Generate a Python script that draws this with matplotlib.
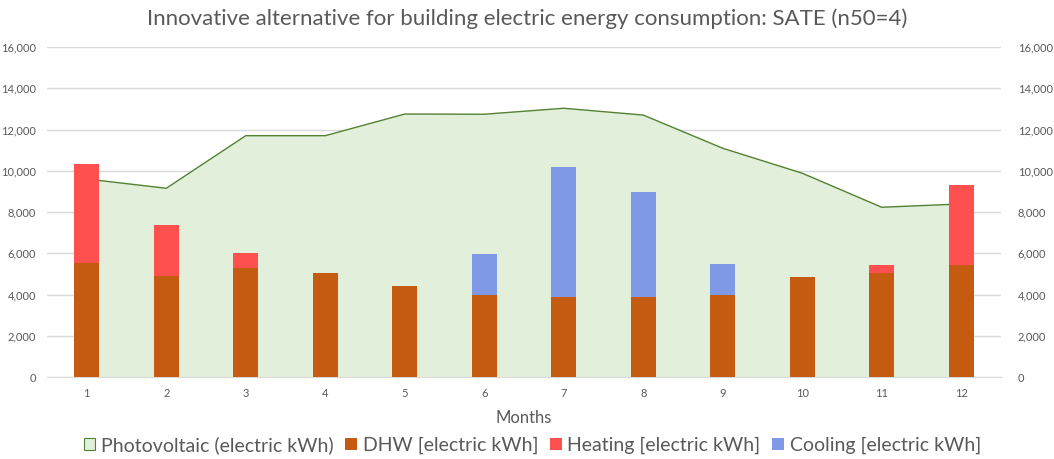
import matplotlib.pyplot as plt
from matplotlib.ticker import FuncFormatter
from matplotlib.patches import Patch

months = [1, 2, 3, 4, 5, 6, 7, 8, 9, 10, 11, 12]
photovoltaic = [9600, 9150, 11700, 11700, 12750, 12740, 13030, 12700, 11090, 9880, 8230, 8390]
dhw = [5510, 4900, 5290, 5040, 4410, 3980, 3880, 3880, 3980, 4850, 5040, 5430]
heating = [4820, 2470, 720, 0, 0, 0, 0, 0, 0, 0, 390, 3880]
cooling = [0, 0, 0, 0, 0, 1980, 6300, 5090, 1500, 0, 0, 0]

plt.rcParams['font.family'] = ['Lato', 'DejaVu Sans']
gray = '#595959'

fig = plt.figure(figsize=(10.54, 4.59), dpi=100)
ax = fig.add_axes([47 / 1054, 1 - 377 / 459, 954 / 1054, 330 / 459])

ax.fill_between(months, photovoltaic, color='#E2EFDA', zorder=1)
ax.plot(months, photovoltaic, color='#548235', lw=1, zorder=2)

w = 0.31
ax.bar(months, dhw, width=w, color='#C55A11', zorder=3)
ax.bar(months, heating, width=w, bottom=dhw, color='#FF5050', zorder=3)
ax.bar(months, cooling, width=w, bottom=dhw, color='#7F99E6', zorder=3)

ax.set_xlim(0.5, 12.5)
ax.set_ylim(0, 16000)
ax.set_xticks(months)
ax.set_yticks(range(0, 16001, 2000))
fmt = FuncFormatter(lambda v, p: f'{int(v):,}')
ax.yaxis.set_major_formatter(fmt)
ax.grid(axis='y', color='#D9D9D9', lw=1, zorder=0)
ax.set_axisbelow(True)
for s in ['top', 'left', 'right']:
    ax.spines[s].set_visible(False)
ax.spines['bottom'].set_color('#D9D9D9')
ax.tick_params(length=0, labelsize=8, colors=gray, pad=8)

ax2 = ax.twinx()
ax2.set_ylim(0, 16000)
ax2.set_yticks(range(0, 16001, 2000))
ax2.yaxis.set_major_formatter(fmt)
for s in ax2.spines.values():
    s.set_visible(False)
ax2.tick_params(length=0, labelsize=8, colors=gray, pad=12)

ax.set_xlabel('Months', fontsize=12, color=gray, labelpad=8)
fig.suptitle('Innovative alternative for building electric energy consumption: SATE (n50=4)',
             fontsize=16, color=gray, y=0.982)

handles = [
    Patch(facecolor='#E2EFDA', edgecolor='#548235', lw=0.8),
    Patch(facecolor='#C55A11'),
    Patch(facecolor='#FF5050'),
    Patch(facecolor='#7F99E6'),
]
labels = ['Photovoltaic (electric kWh)', 'DHW [electric kWh]',
          'Heating [electric kWh]', 'Cooling [electric kWh]']
fig.legend(handles, labels, loc='center', bbox_to_anchor=(0.505, 0.03), ncol=4,
           frameon=False, fontsize=14, handlelength=0.6, handleheight=0.6,
           handletextpad=0.3, columnspacing=0.6, labelcolor=gray)

fig.savefig('out.png', dpi=100)
